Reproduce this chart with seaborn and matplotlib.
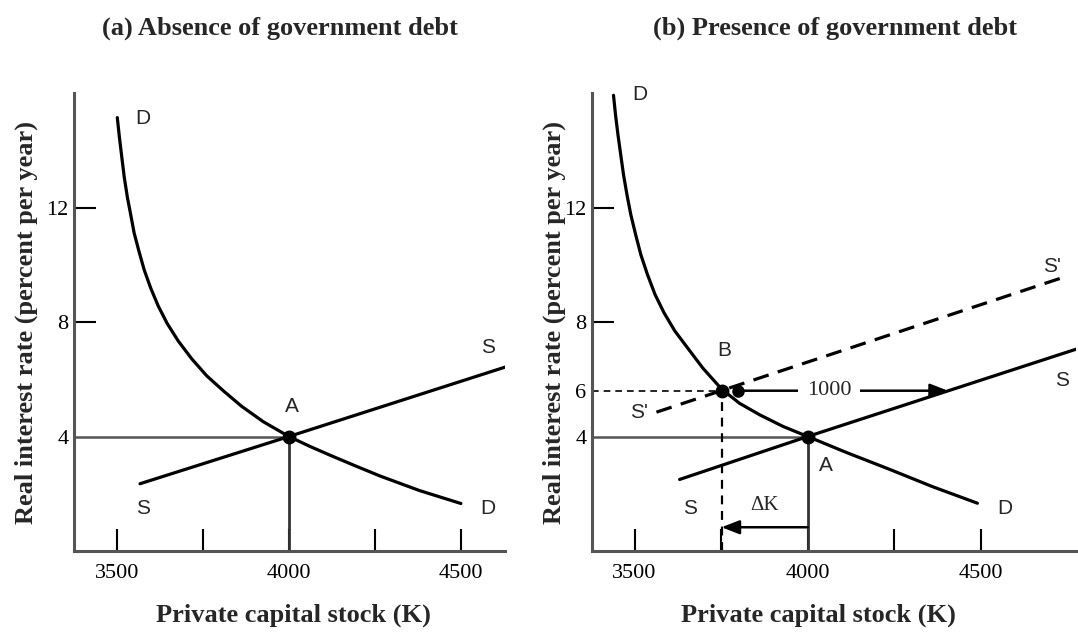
import matplotlib
matplotlib.use("Agg")
import matplotlib.pyplot as plt
import numpy as np
import pandas as pd
import seaborn as sns

# ---- data (K = private capital stock, r = real rate) ----
left_d_k = [3501, 3507, 3514, 3521, 3530, 3540, 3550, 3564, 3579, 3598, 3620, 3646, 3678,
            3717, 3761, 3809, 3862, 3925, 4000, 4060, 4119, 4190, 4265, 4380, 4500]
left_d_r = [15.14, 14.47, 13.77, 13.08, 12.38, 11.75, 11.11, 10.47, 9.83, 9.19, 8.56, 7.95, 7.34,
            6.72, 6.12, 5.60, 5.06, 4.52, 4.0, 3.66, 3.35, 2.99, 2.62, 2.11, 1.66]
left_s_k = [3567, 4000, 4630]
left_s_r = [2.35, 4.0, 6.43]

right_d_k = [3439, 3445, 3452, 3460, 3468, 3478, 3489, 3503, 3518, 3537, 3559, 3585, 3616,
             3652, 3697, 3751, 3803, 3861, 3929, 4000, 4110, 4237, 4360, 4490]
right_d_r = [15.92, 15.22, 14.53, 13.83, 13.14, 12.44, 11.75, 11.05, 10.35, 9.66, 8.96, 8.32, 7.69,
             7.11, 6.39, 5.66, 5.16, 4.76, 4.35, 4.0, 3.45, 2.85, 2.25, 1.67]
right_s_k = [3630, 4000, 4775]
right_s_r = [2.5, 4.0, 7.05]
right_s2_k = [3563, 4748]
right_s2_r = [4.85, 9.6]

point_a = (4000, 4.0)
point_b = (3751, 5.6)
shift_start = (3798, 5.6)
shift_end = (4405, 5.6)
delta_k_r = 0.83

xticks = [3500, 3750, 4000, 4250, 4500]
xtick_labels = ["3500", "", "4000", "", "4500"]
left_yticks = [4, 8, 12]
left_ytick_labels = ["4", "8", "12"]
right_yticks = [4, 5.6, 8, 12]
right_ytick_labels = ["4", "6", "8", "12"]

left_labels = [("D", 3575, 15.1), ("S", 3575, 1.5), ("A", 4010, 5.05),
               ("S", 4578, 7.1), ("D", 4578, 1.5)]
right_labels = [("D", 3514, 15.95), ("S'", 4705, 9.95), ("S", 4734, 5.95),
                ("B", 3760, 7.0), ("S'", 3514, 4.83), ("A", 4052, 3.0),
                ("S", 3659, 1.5), ("D", 4569, 1.5)]

titles = ["(a) Absence of government debt", "(b) Presence of government debt"]
xlabel = "Private capital stock (K)"
ylabel = "Real interest rate (percent per year)"

# ---- style ----
sns.set_theme(style="white")
plt.rcParams["font.family"] = ["Liberation Serif", "DejaVu Serif"]
serif = ["Liberation Serif", "DejaVu Serif"]
sans = ["Liberation Sans", "DejaVu Sans"]
spine_col = "#555555"

fig = plt.figure(figsize=(10.78, 6.34), dpi=100)
ax_l = fig.add_axes([0.0686, 0.1309, 0.3998, 0.7224])
ax_r = fig.add_axes([0.5492, 0.1309, 0.4490, 0.7224])


def base_axes(ax, xlim, yticks, ytick_labels):
    ax.set_xlim(*xlim)
    ax.set_ylim(0, 16)
    for side in ["top", "right"]:
        ax.spines[side].set_visible(False)
    for side in ["left", "bottom"]:
        ax.spines[side].set_color(spine_col)
        ax.spines[side].set_linewidth(2.2)
    ax.set_xticks(xticks, xtick_labels)
    ax.set_yticks(yticks, ytick_labels)
    ax.tick_params(axis="both", direction="in", length=16, width=1.5, color="black",
                   labelsize=16, labelcolor="black", bottom=True, left=True)
    ax.tick_params(axis="x", pad=9)
    ax.tick_params(axis="y", pad=4)
    for lab in ax.get_xticklabels() + ax.get_yticklabels():
        lab.set_family(serif)
    # the "4" level already has the equilibrium guide line, no extra tick mark
    ax.yaxis.get_major_ticks()[0].tick1line.set_visible(False)
    ax.set_xlabel(xlabel, fontsize=19, fontweight="bold", family=serif)
    ax.set_ylabel(ylabel, fontsize=19, fontweight="bold", family=serif)
    ax.grid(False)


def curve(ax, k, r, **kw):
    df = pd.DataFrame({"K": k, "r": r})
    sns.lineplot(data=df, x="K", y="r", ax=ax, color="black", lw=2.3, sort=False,
                 estimator=None, **kw)


def guides(ax, xmin):
    # horizontal at equilibrium rate and vertical down to axis
    ax.plot([xmin, point_a[0]], [point_a[1], point_a[1]], color="#555555", lw=1.8, zorder=2)
    ax.plot([point_a[0], point_a[0]], [0, point_a[1]], color="#333333", lw=2.0, zorder=2)


# ---- left panel ----
base_axes(ax_l, (3375, 4628), left_yticks, left_ytick_labels)
guides(ax_l, 3375)
curve(ax_l, left_d_k, left_d_r)
curve(ax_l, left_s_k, left_s_r)
ax_l.plot(*point_a, "o", color="black", ms=9, zorder=5)
for txt, x, y in left_labels:
    ax_l.text(x, y, txt, family=sans, fontsize=15, ha="center", va="center")
ax_l.xaxis.set_label_coords(0.51, -0.115)
ax_l.yaxis.set_label_coords(-0.084, 0.5)

# ---- right panel ----
base_axes(ax_r, (3377, 4775), right_yticks, right_ytick_labels)
ax_r.yaxis.get_major_ticks()[1].tick1line.set_visible(False)
guides(ax_r, 3377)
curve(ax_r, right_d_k, right_d_r)
curve(ax_r, right_s_k, right_s_r)
ax_r.plot(right_s2_k, right_s2_r, color="black", lw=2.3, dashes=(5, 3))
# dashed projections from B
ax_r.plot([3377, point_b[0]], [point_b[1], point_b[1]], color="black", lw=1.2, dashes=(4, 3))
ax_r.plot([point_b[0], point_b[0]], [0, point_b[1]], color="black", lw=1.6, dashes=(4, 3))
# shift of saving arrow
ax_r.annotate("", xy=shift_end, xytext=shift_start,
              arrowprops=dict(arrowstyle="-|>,head_length=0.9,head_width=0.35",
                              color="black", lw=1.8, shrinkA=0, shrinkB=0))
ax_r.text((shift_start[0] + shift_end[0]) / 2 - 40, shift_start[1], "1000", family=serif,
          fontsize=16, ha="center", va="center",
          bbox=dict(facecolor="white", edgecolor="none", pad=6))
ax_r.plot(*point_a, "o", color="black", ms=9, zorder=5)
ax_r.plot(*point_b, "o", color="black", ms=9, zorder=5)
ax_r.plot(*shift_start, "o", color="black", ms=8, zorder=5)
# delta K arrow
ax_r.annotate("", xy=(point_b[0], delta_k_r), xytext=(point_a[0], delta_k_r),
              arrowprops=dict(arrowstyle="-|>,head_length=0.9,head_width=0.35",
                              color="black", lw=1.8, shrinkA=0, shrinkB=0))
ax_r.text(3876, 1.6, "\u0394K", family=serif, fontsize=15, ha="center", va="center")
for txt, x, y in right_labels:
    ax_r.text(x, y, txt, family=sans, fontsize=15, ha="center", va="center")
ax_r.xaxis.set_label_coords(0.467, -0.115)
ax_r.yaxis.set_label_coords(-0.054, 0.5)

# ---- panel titles ----
fig.text(280 / 1078, 1 - 28 / 634, titles[0], family=serif, fontsize=19,
         fontweight="bold", ha="center", va="center")
fig.text(835 / 1078, 1 - 28 / 634, titles[1], family=serif, fontsize=19,
         fontweight="bold", ha="center", va="center")

fig.savefig("out.png", dpi=100)
